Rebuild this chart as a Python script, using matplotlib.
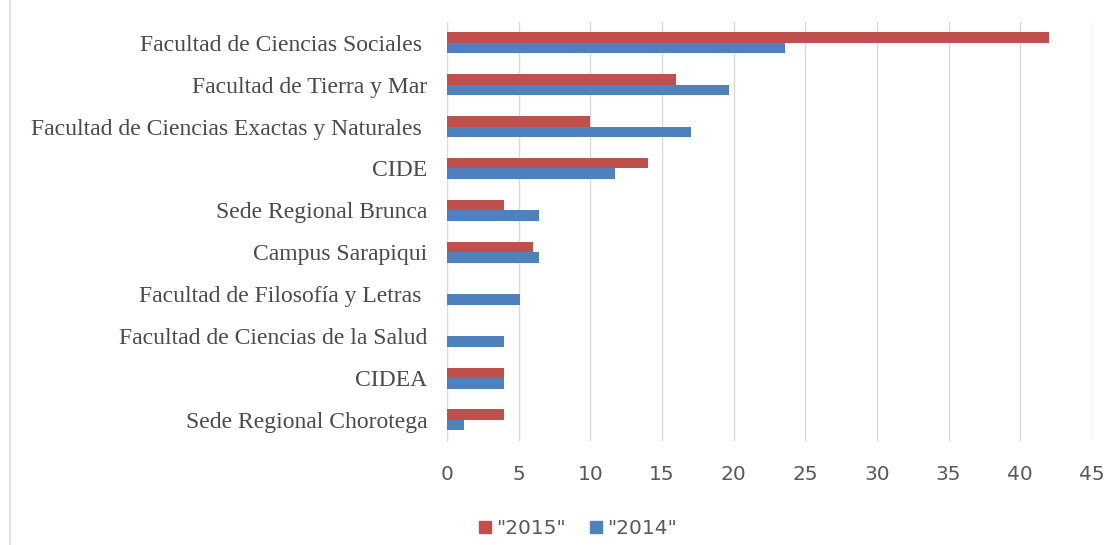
import matplotlib.pyplot as plt
import numpy as np
from matplotlib.lines import Line2D

categories = [
    "Facultad de Ciencias Sociales ",
    "Facultad de Tierra y Mar",
    "Facultad de Ciencias Exactas y Naturales ",
    "CIDE",
    "Sede Regional Brunca",
    "Campus Sarapiqui",
    "Facultad de Filosofía y Letras ",
    "Facultad de Ciencias de la Salud",
    "CIDEA",
    "Sede Regional Chorotega",
]
values_2015 = [42, 16, 10, 14, 4, 6, 0, 0, 4, 4]
values_2014 = [23.6, 19.7, 17.0, 11.7, 6.4, 6.4, 5.1, 4.0, 4.0, 1.2]
series_labels = ['"2015"', '"2014"']
xticks = [0, 5, 10, 15, 20, 25, 30, 35, 40, 45]

red = "#C0504D"
blue = "#4F81BD"
tick_font = "DejaVu Sans"

fig = plt.figure(figsize=(11.12, 5.45), dpi=100)
ax = fig.add_axes([0.402, 0.191, 0.580, 0.769])

y = np.arange(len(categories))
h = 0.25
ax.barh(y - h / 2, values_2015, height=h, color=red, label=series_labels[0], zorder=3)
ax.barh(y + h / 2, values_2014, height=h, color=blue, label=series_labels[1], zorder=3)

ax.set_ylim(len(categories) - 0.5, -0.5)
ax.set_xlim(0, 45)
ax.set_yticks(y)
ax.set_yticklabels(categories, fontsize=17, family="Liberation Serif", color="#4a4a4a")
ax.set_xticks(xticks)
ax.set_xticklabels([str(t) for t in xticks], fontsize=14.5, family=tick_font, color="#595959")
ax.tick_params(length=0)
ax.tick_params(axis="y", pad=14)
ax.tick_params(axis="x", pad=17)

ax.grid(axis="x", color="#D9D9D9", linewidth=1, zorder=0)
for side in ["top", "right", "bottom"]:
    ax.spines[side].set_visible(False)
ax.spines["left"].set_color("#D9D9D9")

# legend
handles = [
    Line2D([], [], marker="s", linestyle="", color=red, markersize=8),
    Line2D([], [], marker="s", linestyle="", color=blue, markersize=8),
]
fig.legend(handles, series_labels, loc="center", bbox_to_anchor=(0.518, 0.031),
           ncol=2, frameon=False, handletextpad=0.05, columnspacing=1.0, handlelength=1.0,
           prop={"family": tick_font, "size": 14.5}, labelcolor="#595959")

# faint frame line at the left edge
fig.add_artist(Line2D([0.009, 0.009], [0, 1], transform=fig.transFigure, color="#E0E0E0", linewidth=1.5))

plt.savefig("out.png", dpi=100)
